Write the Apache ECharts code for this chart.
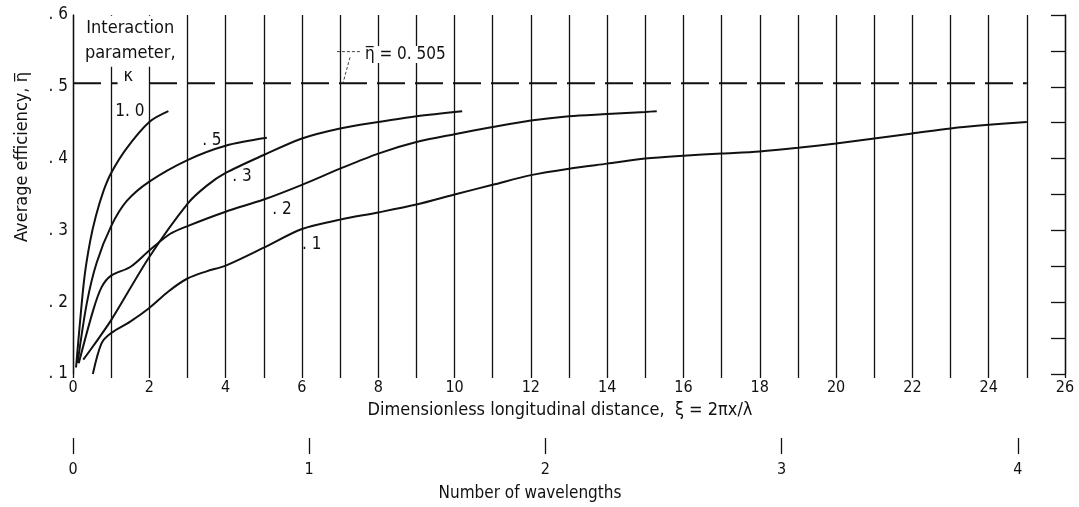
<!DOCTYPE html>
<html>
<head>
<meta charset="utf-8">
<script src="https://cdn.jsdelivr.net/npm/echarts@6/dist/echarts.min.js"></script>
<style>
  html, body { margin: 0; padding: 0; background: #fff; }
  #chart { width: 1079px; height: 507px; }
</style>
</head>
<body>
<div id="chart"></div>
<script>
// Average efficiency vs. dimensionless longitudinal distance, one curve per interaction parameter
const xiTicks = [0, 2, 4, 6, 8, 10, 12, 14, 16, 18, 20, 22, 24, 26];
const wavelengthTicks = [0, 1, 2, 3, 4];
const etaLimit = 0.505;

const xi10 = [0.08, 0.18, 0.3, 0.45, 0.6, 0.8, 1.0, 1.4, 2.0, 2.5];
const eta10 = [0.109, 0.17, 0.235, 0.285, 0.32, 0.355, 0.38, 0.414, 0.451, 0.466];

const xi05 = [0.12, 0.36, 0.62, 1.0, 1.41, 2.0, 3.0, 4.0, 5.08];
const eta05 = [0.115, 0.198, 0.255, 0.306, 0.341, 0.368, 0.398, 0.418, 0.429];

const xi03 = [0.27, 0.53, 1.0, 2.0, 3.0, 3.5, 4.0, 5.0, 6.0, 7.0, 8.0, 9.0, 10.2];
const eta03 = [0.12, 0.139, 0.175, 0.263, 0.337, 0.362, 0.380, 0.405, 0.428, 0.442, 0.451, 0.459, 0.466];

const xi02 = [0.15, 0.53, 0.75, 1.0, 1.5, 2.0, 2.54, 3.0, 4.0, 5.0, 6.0, 7.0, 8.0, 9.0, 10.0, 11, 12, 13, 14, 15, 15.3];
const eta02 = [0.115, 0.189, 0.221, 0.237, 0.249, 0.272, 0.295, 0.306, 0.326, 0.343, 0.3635, 0.386, 0.407, 0.423, 0.434, 0.444, 0.453, 0.459, 0.462, 0.465, 0.466];

const xi01 = [0.52, 0.75, 1.0, 1.5, 2.0, 2.5, 3.0, 3.5, 4.0, 5.0, 6.0, 7.0, 8.0, 9.0, 10.0, 11, 12, 13, 14, 15, 16, 17, 18, 19, 20, 21, 22, 23, 24, 25];
const eta01 = [0.1, 0.143, 0.157, 0.173, 0.192, 0.215, 0.233, 0.243, 0.251, 0.276, 0.302, 0.315, 0.325, 0.336, 0.35, 0.3635, 0.377, 0.386, 0.393, 0.400, 0.404, 0.407, 0.410, 0.415, 0.421, 0.428, 0.435, 0.442, 0.447, 0.451];

// curve labels (kappa values) placed in data coordinates
const kappaNames = ['1. 0', '. 5', '. 3', '. 2', '. 1'];
const kappaLabelXi = [1.49, 3.64, 4.43, 5.48, 6.26];
const kappaLabelEta = [0.465, 0.425, 0.375, 0.329, 0.280];

const FONT = '"Liberation Sans Narrow", "DejaVu Sans Condensed", "Roboto Condensed", sans-serif';
const INK = '#111';

const zip = (xs, ys) => xs.map((x, i) => [x, ys[i]]);

const curve = (name, xs, ys) => ({
  name, type: 'line', data: zip(xs, ys), smooth: 0.3,
  showSymbol: false, symbol: 'none',
  lineStyle: { color: INK, width: 2 }, z: 5, silent: true
});

const textLayer = (name, data, extra) => ({
  name, type: 'scatter', symbolSize: 0, silent: true, z: 6,
  itemStyle: { opacity: 1 },
  data,
  label: Object.assign({
    show: true, position: 'inside', formatter: '{b}',
    fontSize: 17, color: INK, fontFamily: FONT
  }, extra)
});

const chart = echarts.init(document.getElementById('chart'), null, { renderer: 'canvas' });

chart.setOption({
  backgroundColor: '#fff',
  animation: false,
  textStyle: { fontFamily: FONT, color: INK },
  grid: { left: 73, right: 14, top: 15, bottom: 129 },
  xAxis: [
    {
      type: 'value', min: 0, max: 26, interval: 1, position: 'bottom',
      axisLine: { show: false, onZero: false },
      axisTick: { show: true, length: 4, lineStyle: { color: INK, width: 1.3 } },
      axisLabel: { customValues: xiTicks, fontSize: 16, color: INK, margin: 6, fontFamily: FONT },
      splitLine: { show: true, lineStyle: { color: INK, width: 1.3 } },
      name: 'Dimensionless longitudinal distance,  ξ = 2πx/λ',
      nameLocation: 'middle', nameGap: 25,
      nameTextStyle: { fontSize: 18, color: INK, fontFamily: FONT, padding: [0, 18, 0, 0] }
    },
    {
      type: 'value', min: 0, max: 4.2, position: 'bottom', offset: 80,
      axisLine: { show: false, onZero: false },
      axisTick: { show: true, inside: true, length: 16, customValues: wavelengthTicks, lineStyle: { color: INK, width: 1.3 } },
      axisLabel: { customValues: wavelengthTicks, fontSize: 16, color: INK, margin: 8, fontFamily: FONT },
      splitLine: { show: false },
      name: 'Number of wavelengths',
      nameLocation: 'middle', nameGap: 31,
      nameTextStyle: { fontSize: 17, color: INK, fontFamily: FONT, padding: [0, 78, 0, 0] }
    }
  ],
  yAxis: [
    {
      type: 'value', min: 0.1, max: 0.6, interval: 0.1, position: 'left',
      axisLine: { show: true, onZero: false, lineStyle: { color: INK, width: 1.3 } },
      axisTick: { show: false },
      axisLabel: { formatter: v => '. ' + Math.round(v * 10), fontSize: 17, color: INK, margin: 5, fontFamily: FONT },
      splitLine: { show: false }
    },
    {
      type: 'value', min: 0.1, max: 0.6, interval: 0.05, position: 'right',
      axisLine: { show: true, onZero: false, lineStyle: { color: INK, width: 1.3 } },
      axisTick: { show: true, inside: true, length: 14, lineStyle: { color: INK, width: 1.3 } },
      axisLabel: { show: false },
      splitLine: { show: false }
    }
  ],
  series: [
    curve('1.0', xi10, eta10),
    curve('0.5', xi05, eta05),
    curve('0.3', xi03, eta03),
    curve('0.2', xi02, eta02),
    curve('0.1', xi01, eta01),
    {
      name: 'limit', type: 'line', data: [[0, etaLimit], [25, etaLimit]],
      symbol: 'none', silent: true, z: 4,
      lineStyle: { color: INK, width: 2, type: [28, 10] }
    },
    {
      name: 'leader', type: 'line', data: [[7.52, 0.549], [6.92, 0.549]],
      symbol: 'none', silent: true,
      lineStyle: { color: INK, width: 0.8, type: [3, 2] }
    },
    {
      name: 'leader2', type: 'line', data: [[7.26, 0.541], [7.08, 0.506]],
      symbol: 'none', silent: true,
      lineStyle: { color: INK, width: 0.8, type: [3, 2] }
    },
    textLayer('kappa labels',
      kappaNames.map((n, i) => ({ name: n, value: [kappaLabelXi[i], kappaLabelEta[i]] }))),
    textLayer('annotations', [
      { name: 'Interaction', value: [1.5, 0.581] },
      { name: 'parameter,', value: [1.5, 0.546] },
      { name: 'κ', value: [1.45, 0.514] }
    ], { fontSize: 18, backgroundColor: '#fff', padding: [4, 6] }),
    textLayer('limit label', [{ name: 'η̅ = 0. 505', value: [7.65, 0.545] }],
      { position: 'right', distance: 0, backgroundColor: '#fff' })
  ],
  graphic: [
    {
      type: 'text', x: 22, y: 157, rotation: Math.PI / 2,
      style: {
        text: 'Average efficiency, η̅', fontSize: 18, fontFamily: FONT, fill: INK,
        align: 'center', verticalAlign: 'middle'
      }
    }
  ]
});
</script>
</body>
</html>
